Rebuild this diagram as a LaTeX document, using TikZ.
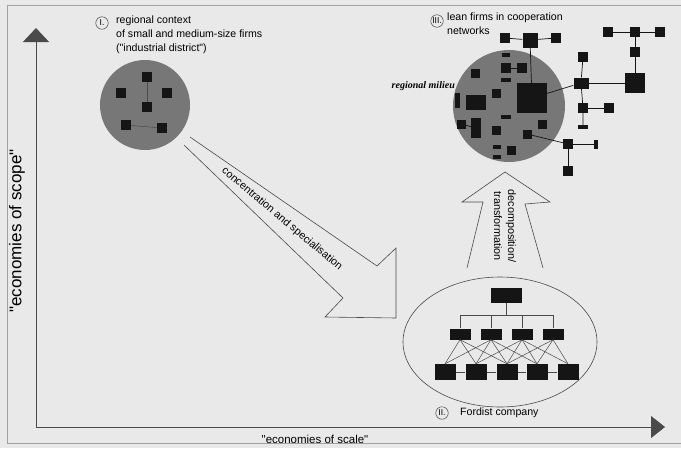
\documentclass[tikz,border=0pt]{standalone}
\usepackage{fontspec}
\setmainfont{Liberation Sans}
\newfontfamily\milieufont{Liberation Serif}
\usetikzlibrary{arrows.meta,shapes.geometric}
\definecolor{paperc}{HTML}{E9E9E9}
\definecolor{framec}{HTML}{A0A0A0}
\definecolor{milieuc}{HTML}{777777}
\definecolor{firmc}{HTML}{151515}
\definecolor{linec}{HTML}{4A4A4A}

\begin{document}
\begin{tikzpicture}[x=1pt,y=-1pt,
  lbl/.style={font=\fontsize{10.6}{14}\selectfont,align=left,anchor=west,inner sep=0pt},
  num/.style={circle,draw=linec,line width=0.5pt,inner sep=0pt,minimum size=12.5pt,
              font=\fontsize{8.5}{9}\selectfont},
  firm/.style={fill=firmc,inner sep=0pt,minimum size=#1},
  firm/.default=10pt,
  bar/.style={fill=firmc,inner sep=0pt,minimum width=#1,minimum height=3.5pt},
  bar/.default=9pt,
  link/.style={draw=firmc,line width=0.7pt},
  thinlink/.style={draw=linec,line width=0.5pt},
  blockarrow/.style={draw=linec,line width=0.6pt,line join=miter},
  axis/.style={draw=linec,line width=0.8pt,
               {Triangle[width=26pt,length=14pt]}-{Triangle[width=22pt,length=14pt]}},
]
\useasboundingbox[fill=paperc] (0,0) rectangle (681,448);
\draw[framec,line width=0.8pt] (681,5) -- (7,5) -- (7,443) -- (681,443);

% axes
\coordinate (ytop) at (36,28);
\coordinate (origin) at (36,427);
\coordinate (xend) at (665,427);
\draw[axis] (ytop) -- (origin) -- (xend);
\node[rotate=90,font=\fontsize{17}{20}\selectfont] (scope) at (17,231)
  {\textquotedbl economies of scope\textquotedbl};
\node[font=\fontsize{11.5}{14}\selectfont] (scale) at (315,439)
  {\textquotedbl economies of scale\textquotedbl};

% I. industrial district
\node[num] (numI) at (102,23) {I.};
\node[lbl,anchor=north west] (lblI) at (116,16)
  {regional context\\of small and medium-size firms\\(\textquotedbl industrial district\textquotedbl)};
\node[circle,fill=milieuc,minimum size=90pt,inner sep=0pt] (district) at (145,105) {};
\node[firm] (a1) at (147,77) {};
\node[firm] (a2) at (121,93) {};
\node[firm] (a3) at (167,93) {};
\node[firm] (a4) at (147,107) {};
\node[firm] (a5) at (126,125) {};
\node[firm] (a6) at (162,128) {};
\draw[thinlink] (a1) -- (a4);
\draw[thinlink] (a5) -- (a6);

% concentration arrow
\draw[blockarrow] (190,137) -- (377,266) -- (396,248) -- (396,318)
  -- (325,317) -- (343,298) -- (184,145);
\node[rotate=-40,font=\fontsize{10.8}{13}\selectfont] (conc) at (282,219)
  {concentration and specialisation};

% II. Fordist company
\node[ellipse,draw=linec,line width=0.6pt,minimum width=194pt,minimum height=130pt]
  (fordist) at (500,342) {};
\node[firm,minimum width=31pt,minimum height=15pt] (head) at (506,295) {};
\coordinate (bus) at (506,315);
\foreach \x [count=\i] in {460,491,522,553}
  \node[firm,minimum width=21pt,minimum height=11pt] (m\i) at (\x,334) {};
\foreach \x [count=\i] in {445,476,507,537,568}
  \node[firm,minimum width=21pt,minimum height=16pt] (b\i) at (\x,372) {};
\draw[thinlink] (head) -- (bus);
\foreach \i in {1,...,4}
  \draw[thinlink] (m\i.north) |- (bus);
\foreach \i/\j in {1/2,2/3,3/4,4/5}
  \draw[thinlink] (b\i) -- (b\j);
\foreach \i/\j in {1/1,1/2,1/3,2/1,2/2,2/3,2/4,3/2,3/3,3/4,3/5,4/3,4/4,4/5}
  \draw[thinlink] (m\i.south) -- (b\j.north);
\node[num] (numII) at (442,413) {II.};
\node[lbl] (lblII) at (460,413) {Fordist company};

% decomposition arrow
\draw[blockarrow] (467,268) -- (483,202) -- (462,202) -- (505,172)
  -- (550,202) -- (525,204) -- (543,268);
\node[rotate=-90,font=\fontsize{10.8}{14}\selectfont,align=center] (decomp) at (505,226)
  {decomposition/\\transformation};

% III. lean firms
\node[num] (numIII) at (437,21) {III.};
\node[lbl,anchor=north west] (lblIII) at (447,13) {lean firms in cooperation\\networks};
\node[circle,fill=milieuc,minimum size=112pt,inner sep=0pt] (milieu) at (509,106) {};
\node[anchor=east,inner sep=0pt,font=\milieufont\itshape\bfseries\fontsize{10}{12}\selectfont]
  (milieulbl) at (455,86) {regional milieu};

% firms inside the milieu
\node[firm=30pt] (core) at (532,98) {};
\node[bar=8pt] (d1) at (506,55) {};
\node[firm] (d2) at (506,68) {};
\node[firm] (d3) at (522,68) {};
\node[firm=9pt] (d4) at (475,73) {};
\node[bar=10pt] (d5) at (506,80) {};
\node[firm=9pt] (d6) at (496,93) {};
\node[firm,minimum width=20pt,minimum height=15pt] (d7) at (476,102) {};
\node[firm,minimum width=5pt,minimum height=15pt] (d8) at (457,100) {};
\node[firm=9pt] (d9) at (461,124) {};
\node[firm,minimum width=10pt,minimum height=20pt] (d10) at (476,128) {};
\node[bar=10pt] (d11) at (506,117) {};
\node[firm=9pt] (d12) at (496,130) {};
\node[firm=9pt] (d13) at (542,124) {};
\node[firm=9pt] (d14) at (527,134) {};
\node[firm=9pt] (d15) at (511,150) {};
\node[bar=8pt] (d16) at (497,147) {};
\node[bar=8pt] (d17) at (497,157) {};
\draw[link] (d2) -- (d3);
\draw[link] (d9) -- (d10);

% network outside
\node[firm] (t1) at (505,38) {};
\node[firm=15pt] (t2) at (530,40) {};
\node[firm] (t3) at (556,38) {};
\node[firm,minimum width=15pt,minimum height=11pt] (hub) at (581,83) {};
\node[firm] (r1) at (583,57) {};
\node[firm] (r2) at (583,108) {};
\node[firm] (r3) at (609,108) {};
\node[bar=10pt] (r4) at (583,127) {};
\node[firm=20pt] (big) at (635,83) {};
\node[firm] (f1) at (608,32) {};
\node[firm] (f2) at (635,32) {};
\node[firm] (f3) at (660,32) {};
\node[firm] (f4) at (635,52) {};
\node[firm] (s1) at (568,144) {};
\node[firm,minimum width=4pt,minimum height=9pt] (s2) at (596,144) {};
\node[firm] (s3) at (568,171) {};
\draw[link] (t1) -- (t2) -- (t3);
\draw[link] (t2) -- (core);
\draw[link] (core) -- (hub);
\draw[link] (r1) -- (hub) -- (r2) -- (r4);
\draw[link] (r2) -- (r3);
\draw[link] (hub) -- (big);
\draw[link] (f1) -- (f2) -- (f3);
\draw[link] (f2) -- (f4) -- (big);
\draw[link] (d14) -- (s1);
\draw[link] (s1) -- (s2);
\draw[link] (s1) -- (s3);
\end{tikzpicture}
\end{document}
